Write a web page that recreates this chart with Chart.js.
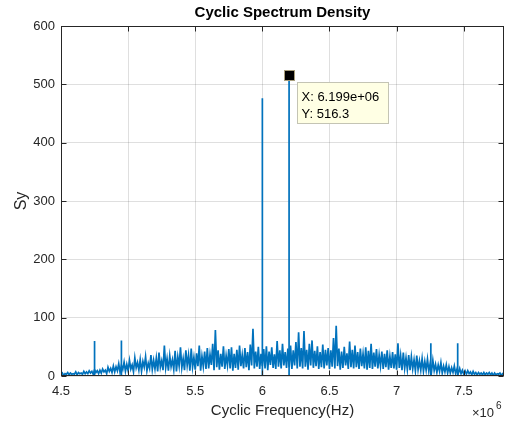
<!DOCTYPE html>
<html>
<head>
<meta charset="utf-8">
<script src="https://cdn.jsdelivr.net/npm/chart.js@4/dist/chart.umd.min.js"></script>
<style>
  html, body { margin: 0; padding: 0; background: #fff; }
  #wrap { width: 505px; height: 421px; }
</style>
</head>
<body>
<div id="wrap"><canvas id="c" width="505" height="421"></canvas></div>
<script>
// Cyclic frequency bins (Hz): first bin and bin spacing
const binStart = 4.5e6;
const binStep = 1e4;

// Cyclic spectrum density per bin (4.50 MHz ... 7.80 MHz)
const syNoise = [
  2,5,1,4,3,6,2,5,3,4,
  3,7,2,6,4,5,3,8,4,7,
  4,9,5,8,3,11,6,9,4,10,
  5,12,7,10,4,15,8,13,6,17,
  7,16,9,21,6,18,11,24,8,20,
  9,27,12,19,7,31,14,23,10,28,
  8,25,15,33,9,22,13,36,11,27,
  12,31,8,40,15,26,10,52,14,30,
  9,35,16,28,11,43,8,33,17,49,
  14,30,10,44,18,36,9,47,15,32,
  11,39,17,52,9,34,16,42,12,48,
  13,37,19,55,10,79,15,44,11,38,
  16,51,12,35,18,46,13,49,9,38,
  14,45,11,52,17,36,13,48,15,41,
  10,54,18,81,13,42,16,50,12,38,
  17,46,13,51,10,42,19,49,14,37,
  12,60,16,44,13,55,18,41,14,47,
  15,52,12,44,18,58,13,75,16,48,
  13,77,16,45,11,55,18,61,14,43,
  17,51,12,41,15,54,13,45,18,48,
  12,44,16,65,13,86,17,47,11,42,
  14,50,18,39,12,59,15,45,13,52,
  15,41,12,47,17,38,13,49,11,43,
  14,55,12,40,16,46,13,36,17,42,
  12,38,15,44,11,34,14,41,13,37,
  11,56,14,35,10,40,13,31,11,36,
  10,33,12,28,9,35,11,26,10,30,
  8,25,10,29,8,22,7,27,9,20,
  6,19,8,23,5,17,7,19,5,16,
  5,14,6,17,4,12,5,13,4,10,
  3,9,3,9,4,7,2,8,3,6,
  2,6,3,5,2,6,2,5,3,6,
  2,5,1,5,2,4,3,5,1,4,
  3
];

// Discrete cyclic components (Hz, Sy)
const spikeFreq = [4.75e6, 4.95e6, 6.0e6, 6.199e6, 7.255e6, 7.455e6];
const spikeSy   = [60, 61, 476, 516.3, 56, 56];

// Index of the component marked with a data tip
const tipIndex = 3;

// Axis ticks
const xTicks = [4.5e6, 5e6, 5.5e6, 6e6, 6.5e6, 7e6, 7.5e6];
const xTickLabels = ['4.5', '5', '5.5', '6', '6.5', '7', '7.5'];
const yTicks = [0, 100, 200, 300, 400, 500, 600];

const FONT = '"Liberation Sans", Arial, Helvetica, sans-serif';
const AXIS_COLOR = '#262626';
const LINE_COLOR = '#0072BD';

const noisePts = syNoise.map((v, i) => ({ x: binStart + i * binStep, y: v }));
const spikePts = [];
spikeFreq.forEach((f, i) => {
  spikePts.push({ x: f, y: 0 }, { x: f, y: spikeSy[i] }, { x: f, y: null });
});

function fmtExp(v) {
  const e = Math.floor(Math.log10(Math.abs(v)));
  const m = (v / Math.pow(10, e)).toFixed(3);
  return m + 'e' + (e >= 0 ? '+' : '-') + String(Math.abs(e)).padStart(2, '0');
}

// Axes box, inward tick marks, title, exponent and data tip
const frame = {
  id: 'frame',
  afterDraw(chart) {
    const { ctx, chartArea: a, scales: { x, y } } = chart;
    ctx.save();
    const L = Math.round(a.left) + 0.5, R = Math.round(a.right) - 0.5;
    const T = Math.round(a.top) + 0.5, B = Math.round(a.bottom) - 0.5;
    ctx.strokeStyle = AXIS_COLOR;
    ctx.lineWidth = 1;
    ctx.strokeRect(L, T, R - L, B - T);
    const tl = 5;
    ctx.beginPath();
    xTicks.forEach(v => {
      const px = Math.round(x.getPixelForValue(v)) + 0.5;
      ctx.moveTo(px, B); ctx.lineTo(px, B - tl);
      ctx.moveTo(px, T); ctx.lineTo(px, T + tl);
    });
    yTicks.forEach(v => {
      const py = Math.round(y.getPixelForValue(v)) + 0.5;
      ctx.moveTo(L, py); ctx.lineTo(L + tl, py);
      ctx.moveTo(R, py); ctx.lineTo(R - tl, py);
    });
    ctx.stroke();

    // Title
    ctx.fillStyle = '#000';
    ctx.font = 'bold 15px ' + FONT;
    ctx.textAlign = 'center';
    ctx.textBaseline = 'middle';
    ctx.fillText('Cyclic Spectrum Density', (a.left + a.right) / 2, 13);

    // Exponent of the x axis
    ctx.fillStyle = AXIS_COLOR;
    ctx.textAlign = 'left';
    ctx.textBaseline = 'alphabetic';
    ctx.font = '13px ' + FONT;
    ctx.fillText('\u00d710', 472, 417);
    ctx.font = '10px ' + FONT;
    ctx.fillText('6', 496, 409);

    // Data tip
    const tf = spikeFreq[tipIndex], tv = spikeSy[tipIndex];
    const mx = Math.round(x.getPixelForValue(tf)), my = Math.round(y.getPixelForValue(tv));
    ctx.fillStyle = '#000';
    ctx.fillRect(mx - 4, my - 4, 9, 9);
    ctx.strokeStyle = '#a89e7c';
    ctx.strokeRect(mx - 4.5, my - 4.5, 10, 10);

    const bx = mx + 8.5, by = my + 7.5, bw = 91, bh = 41;
    ctx.fillStyle = '#ffffe4';
    ctx.fillRect(bx, by, bw, bh);
    ctx.strokeStyle = '#c4c4b4';
    ctx.strokeRect(bx, by, bw, bh);
    ctx.fillStyle = '#000';
    ctx.font = '13px ' + FONT;
    ctx.fillText('X: ' + fmtExp(tf), bx + 4, by + 18);
    ctx.fillText('Y: ' + tv.toFixed(1), bx + 4, by + 35);
    ctx.restore();
  }
};

new Chart(document.getElementById('c'), {
  type: 'line',
  data: {
    datasets: [
      { data: noisePts, borderColor: LINE_COLOR, borderWidth: 1.7, pointRadius: 0, fill: false, tension: 0 },
      { data: spikePts, borderColor: LINE_COLOR, borderWidth: 1.7, pointRadius: 0, fill: false, tension: 0, spanGaps: false }
    ]
  },
  options: {
    responsive: false,
    animation: false,
    devicePixelRatio: 1,
    events: [],
    layout: { padding: { top: 26, right: 1, left: 0, bottom: 0 } },
    plugins: { legend: { display: false }, tooltip: { enabled: false }, title: { display: false } },
    scales: {
      x: {
        type: 'linear',
        min: 4.5e6,
        max: 7.8e6,
        afterFit(s) { s.height = 45; },
        afterBuildTicks(s) { s.ticks = xTicks.map(v => ({ value: v })); },
        ticks: {
          callback: (v, i) => xTickLabels[i],
          font: { family: FONT, size: 13 },
          color: AXIS_COLOR,
          padding: 8,
          maxRotation: 0,
          autoSkip: false
        },
        grid: { color: 'rgba(38,38,38,0.15)', drawTicks: false },
        border: { display: false },
        title: {
          display: true,
          text: 'Cyclic Frequency(Hz)',
          font: { family: FONT, size: 15 },
          color: AXIS_COLOR,
          padding: { top: 0, bottom: 1 }
        }
      },
      y: {
        type: 'linear',
        min: 0,
        max: 600,
        afterFit(s) { s.width = 61; },
        afterBuildTicks(s) { s.ticks = yTicks.map(v => ({ value: v })); },
        ticks: {
          font: { family: FONT, size: 13 },
          color: AXIS_COLOR,
          padding: 6
        },
        grid: { color: 'rgba(38,38,38,0.15)', drawTicks: false },
        border: { display: false },
        title: {
          display: true,
          text: 'Sy',
          font: { family: FONT, size: 16 },
          color: AXIS_COLOR,
          padding: { top: 12, bottom: 0 }
        }
      }
    }
  },
  plugins: [frame]
});
</script>
</body>
</html>
